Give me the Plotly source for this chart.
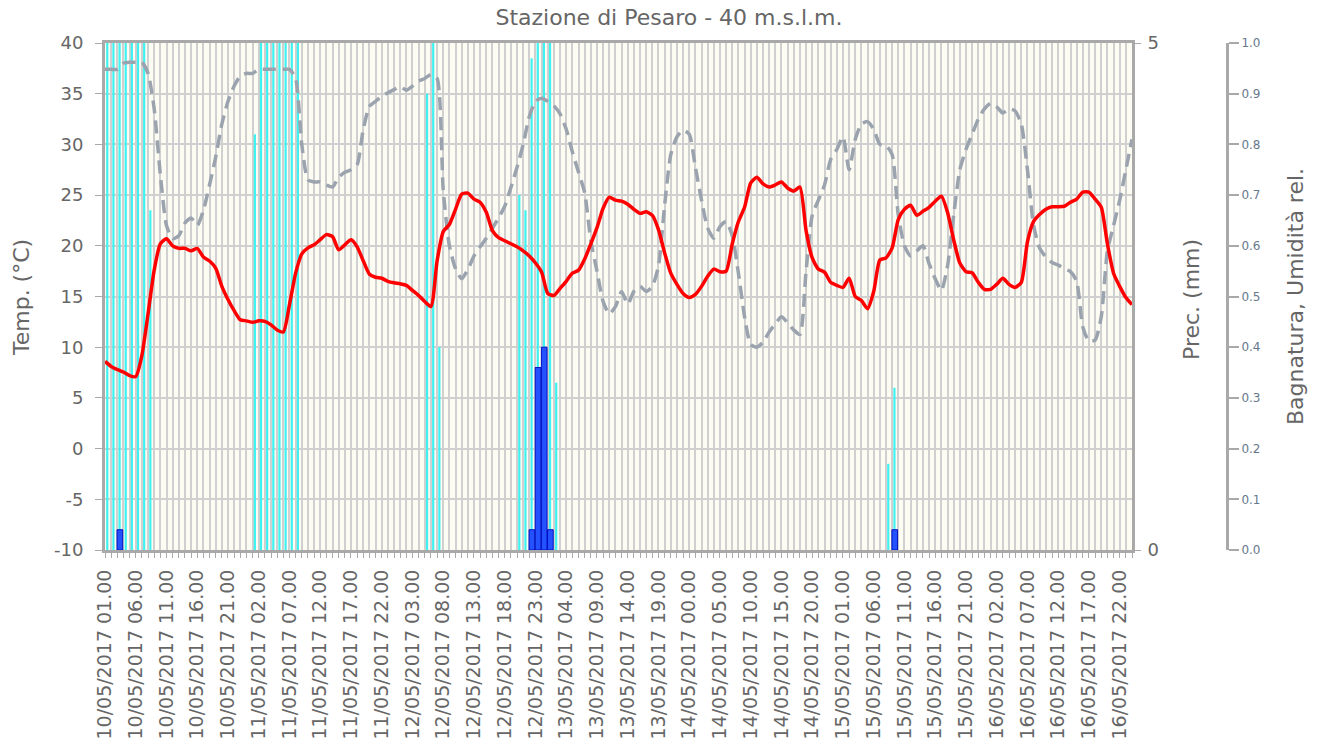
import datetime as dt
import plotly.graph_objects as go

# ---------------- data (hourly, 10/05/2017 01.00 -> 17/05/2017 00.00) ----------------
start = dt.datetime(2017, 5, 10, 1, 0)
n_hours = 168
hours = list(range(n_hours))
hour_labels = [(start + dt.timedelta(hours=h)).strftime("%d/%m/%Y %H.%M") for h in hours]

temperature = [
    8.6, 8.1, 7.8, 7.55, 7.2, 7.1, 9.2, 13.3, 17.6, 20.2,
    20.7, 20.0, 19.75, 19.75, 19.5, 19.75, 18.9, 18.5, 17.8, 16.0,
    14.7, 13.6, 12.7, 12.6, 12.45, 12.6, 12.55, 12.2, 11.7, 11.5,
    14.2, 17.3, 19.2, 19.8, 20.1, 20.6, 21.1, 20.9, 19.6, 20.1,
    20.6, 19.9, 18.5, 17.2, 16.9, 16.8, 16.5, 16.35, 16.25, 16.1,
    15.6, 15.1, 14.5, 14.0, 18.5, 21.4, 22.1, 23.6, 25.1, 25.2,
    24.6, 24.3, 23.3, 21.5, 20.8, 20.5, 20.2, 19.9, 19.5, 19.0,
    18.3, 17.4, 15.3, 15.1, 15.8, 16.5, 17.3, 17.6, 18.7, 20.2,
    21.8, 23.7, 24.8, 24.5, 24.4, 24.1, 23.6, 23.2, 23.35, 23.0,
    21.6, 19.3, 17.3, 16.2, 15.3, 14.9, 15.2, 16.0, 17.0, 17.7,
    17.45, 17.5, 20.2, 22.4, 23.8, 26.2, 26.75, 26.1, 25.8, 26.0,
    26.3, 25.7, 25.4, 25.8, 21.5, 18.8, 17.7, 17.4, 16.4, 16.1,
    15.9, 16.8, 15.0, 14.6, 13.8, 15.5, 18.6, 18.8, 19.8, 22.6,
    23.6, 24.0, 23.0, 23.4, 23.8, 24.4, 24.9, 23.3, 20.6, 18.3,
    17.45, 17.35, 16.4, 15.7, 15.7, 16.2, 16.8, 16.2, 15.9, 16.4,
    20.4, 22.4, 23.1, 23.6, 23.85, 23.85, 23.9, 24.3, 24.6, 25.3,
    25.3, 24.6, 23.8, 20.2, 17.3, 16.0, 14.9, 14.2,
]

humidity = [
    0.948, 0.948, 0.948, 0.96, 0.962, 0.962, 0.962, 0.94, 0.87, 0.74,
    0.64, 0.614, 0.62, 0.645, 0.655, 0.64, 0.67, 0.72, 0.775, 0.84,
    0.885, 0.915, 0.935, 0.94, 0.94, 0.948, 0.948, 0.948, 0.948, 0.948,
    0.948, 0.93, 0.80, 0.73, 0.726, 0.726, 0.72, 0.716, 0.735, 0.745,
    0.75, 0.76, 0.83, 0.875, 0.885, 0.895, 0.902, 0.908, 0.914, 0.907,
    0.915, 0.925, 0.93, 0.938, 0.93, 0.71, 0.60, 0.555, 0.535, 0.553,
    0.58, 0.598, 0.615, 0.635, 0.655, 0.678, 0.715, 0.755, 0.80, 0.855,
    0.885, 0.891, 0.885, 0.876, 0.86, 0.83, 0.785, 0.745, 0.705, 0.61,
    0.55, 0.49, 0.466, 0.48, 0.51, 0.485, 0.51, 0.52, 0.51, 0.52,
    0.56, 0.68, 0.78, 0.815, 0.828, 0.82, 0.755, 0.69, 0.635, 0.615,
    0.638, 0.648, 0.62, 0.546, 0.46, 0.405, 0.40, 0.41, 0.43, 0.446,
    0.46, 0.448, 0.434, 0.425, 0.55, 0.66, 0.69, 0.72, 0.77, 0.79,
    0.815, 0.75, 0.81, 0.84, 0.845, 0.83, 0.80, 0.798, 0.78, 0.66,
    0.60, 0.58, 0.59, 0.60, 0.565, 0.535, 0.512, 0.56, 0.66, 0.75,
    0.79, 0.82, 0.85, 0.87, 0.881, 0.874, 0.862, 0.87, 0.866, 0.84,
    0.75, 0.64, 0.595, 0.578, 0.567, 0.562, 0.555, 0.549, 0.53, 0.44,
    0.412, 0.414, 0.46, 0.59, 0.64, 0.69, 0.75, 0.81,
]

# leaf wetness (Bagnatura, 0-1), only the hours where it is non-zero
wet_hours = [0, 1, 2, 3, 4, 5, 6, 7, 24, 25, 26, 27, 28, 29, 30, 31,
             52, 53, 54, 67, 68, 69, 70, 71, 72, 73, 127, 128]
wet_values = [1.0, 1.0, 1.0, 1.0, 1.0, 1.0, 1.0, 0.67, 0.82, 1.0, 1.0, 1.0, 1.0, 1.0, 1.0, 1.0,
              0.90, 1.0, 0.40, 0.70, 0.67, 0.97, 1.0, 1.0, 1.0, 0.33, 0.17, 0.32]

# precipitation (mm), only the hours where it is non-zero
rain_hours = [2, 69, 70, 71, 72, 128]
rain_values = [0.2, 0.2, 1.8, 2.0, 0.2, 0.2]

tick_hours = list(range(0, n_hours, 5))
tick_text = [hour_labels[h] for h in tick_hours]

temp_ticks = list(range(-10, 41, 5))
temp_tick_text = [str(v) for v in temp_ticks]

# ---------------- figure ----------------
FONT = "DejaVu Sans"
TXT = "#666666"
AX = "#a9a9a9"
GRID = "#d0d0d0"

fig = go.Figure()

fig.add_trace(go.Bar(
    x=wet_hours, y=wet_values, yaxis="y", width=0.36, offset=0.19,
    marker=dict(color="#3ef2f2", line=dict(width=0)), name="Bagnatura",
    showlegend=False,
))
fig.add_trace(go.Bar(
    x=rain_hours, y=rain_values, yaxis="y2", width=0.92, offset=-0.04,
    marker=dict(color="#2452ff", line=dict(color="#0010c0", width=1)), name="Prec.",
    showlegend=False,
))
fig.add_trace(go.Scatter(
    x=hours, y=humidity, yaxis="y3", mode="lines",
    line=dict(color="#9aa3ae", width=3.5, dash="13px,7px", shape="spline", smoothing=0.6),
    name="Umidità rel.", showlegend=False,
))
fig.add_trace(go.Scatter(
    x=hours, y=temperature, yaxis="y4", mode="lines",
    line=dict(color="#ff0000", width=3.5, shape="spline", smoothing=0.6),
    name="Temp.", showlegend=False,
))

W, H = 1318, 745
ML, MT = 105, 43
MB = H - 550
MR = W - 1227
paper_w = W - ML - MR
paper_h = H - MT - MB
x_end = (1132 - ML) / paper_w


def px_x(px):  # window pixel -> paper x
    return (px - ML) / paper_w


def px_y(py):  # window pixel -> paper y
    return (H - MB - py) / paper_h


fig.update_layout(
    width=W, height=H,
    margin=dict(l=ML, r=MR, t=MT, b=MB, autoexpand=False),
    paper_bgcolor="white",
    plot_bgcolor="#fdfcf3",
    barmode="overlay",
    font=dict(family=FONT, color=TXT),
    title=dict(text="Stazione di Pesaro - 40 m.s.l.m.", x=669 / W, xref="container",
               xanchor="center", y=1 - 17 / H, yanchor="middle",
               font=dict(family=FONT, size=22, color=TXT)),
    xaxis=dict(
        domain=[0, x_end], range=[0, n_hours - 1], anchor="y",
        tickmode="array", tickvals=tick_hours, ticktext=tick_text,
        tickangle=-90, tickfont=dict(size=19, color=TXT, family=FONT),
        ticks="outside", ticklen=5, tickcolor=AX, tickwidth=1,
        ticklabelstandoff=4,
        showgrid=True, gridcolor=GRID, gridwidth=1.5,
        minor=dict(dtick=1, tick0=0, showgrid=True, gridcolor=GRID, gridwidth=1.5,
                   ticks="outside", ticklen=5, tickcolor=AX),
        showline=True, mirror=True, linecolor=AX, linewidth=3,
        zeroline=False, automargin=False, fixedrange=True,
    ),
    yaxis=dict(range=[0, 1], visible=False, fixedrange=True),
    yaxis2=dict(
        range=[0, 5], overlaying="y", side="right", anchor="x",
        tickmode="array", tickvals=[0, 5], ticktext=["0", "5"],
        tickfont=dict(size=18, color=TXT, family=FONT),
        ticks="outside", ticklen=6, tickcolor=AX, ticklabelstandoff=3,
        showgrid=False, zeroline=False, showline=True, linecolor=AX, linewidth=3,
        automargin=False,
    ),
    yaxis3=dict(
        range=[0, 1], overlaying="y", side="right", anchor="free", position=1.0,
        tickmode="linear", tick0=0, dtick=0.1, tickformat=".1f",
        tickfont=dict(size=12, color="#66788c", family=FONT),
        ticks="outside", ticklen=10, tickcolor=AX, tickwidth=2,
        showgrid=False, zeroline=False, showline=True, linecolor=AX, linewidth=3,
        automargin=False,
    ),
    yaxis4=dict(
        range=[-10, 40], overlaying="y", side="left", anchor="x",
        tickmode="array", tickvals=temp_ticks, ticktext=temp_tick_text,
        tickfont=dict(size=18, color=TXT, family=FONT),
        ticks="outside", ticklen=7, tickcolor=AX, ticklabelstandoff=8,
        showgrid=True, gridcolor=GRID, gridwidth=1.5,
        zeroline=False, showline=True, linecolor=AX, linewidth=3,
        automargin=False,
    ),
    annotations=[
        dict(text="Temp. (°C)", xref="paper", yref="paper", x=px_x(21.5), y=px_y(297.5),
             textangle=-90, showarrow=False, xanchor="center", yanchor="middle",
             font=dict(size=22, color=TXT, family=FONT)),
        dict(text="Prec. (mm)", xref="paper", yref="paper", x=px_x(1191.5), y=px_y(299.5),
             textangle=-90, showarrow=False, xanchor="center", yanchor="middle",
             font=dict(size=22, color=TXT, family=FONT)),
        dict(text="Bagnatura, Umidità rel.", xref="paper", yref="paper",
             x=px_x(1295), y=px_y(297),
             textangle=-90, showarrow=False, xanchor="center", yanchor="middle",
             font=dict(size=22, color=TXT, family=FONT)),
    ],
)

# remove the default page margin so the figure fills the window exactly
fig.write_html("out.html", config={"displayModeBar": False},
               post_script="document.body.style.margin='0';")
